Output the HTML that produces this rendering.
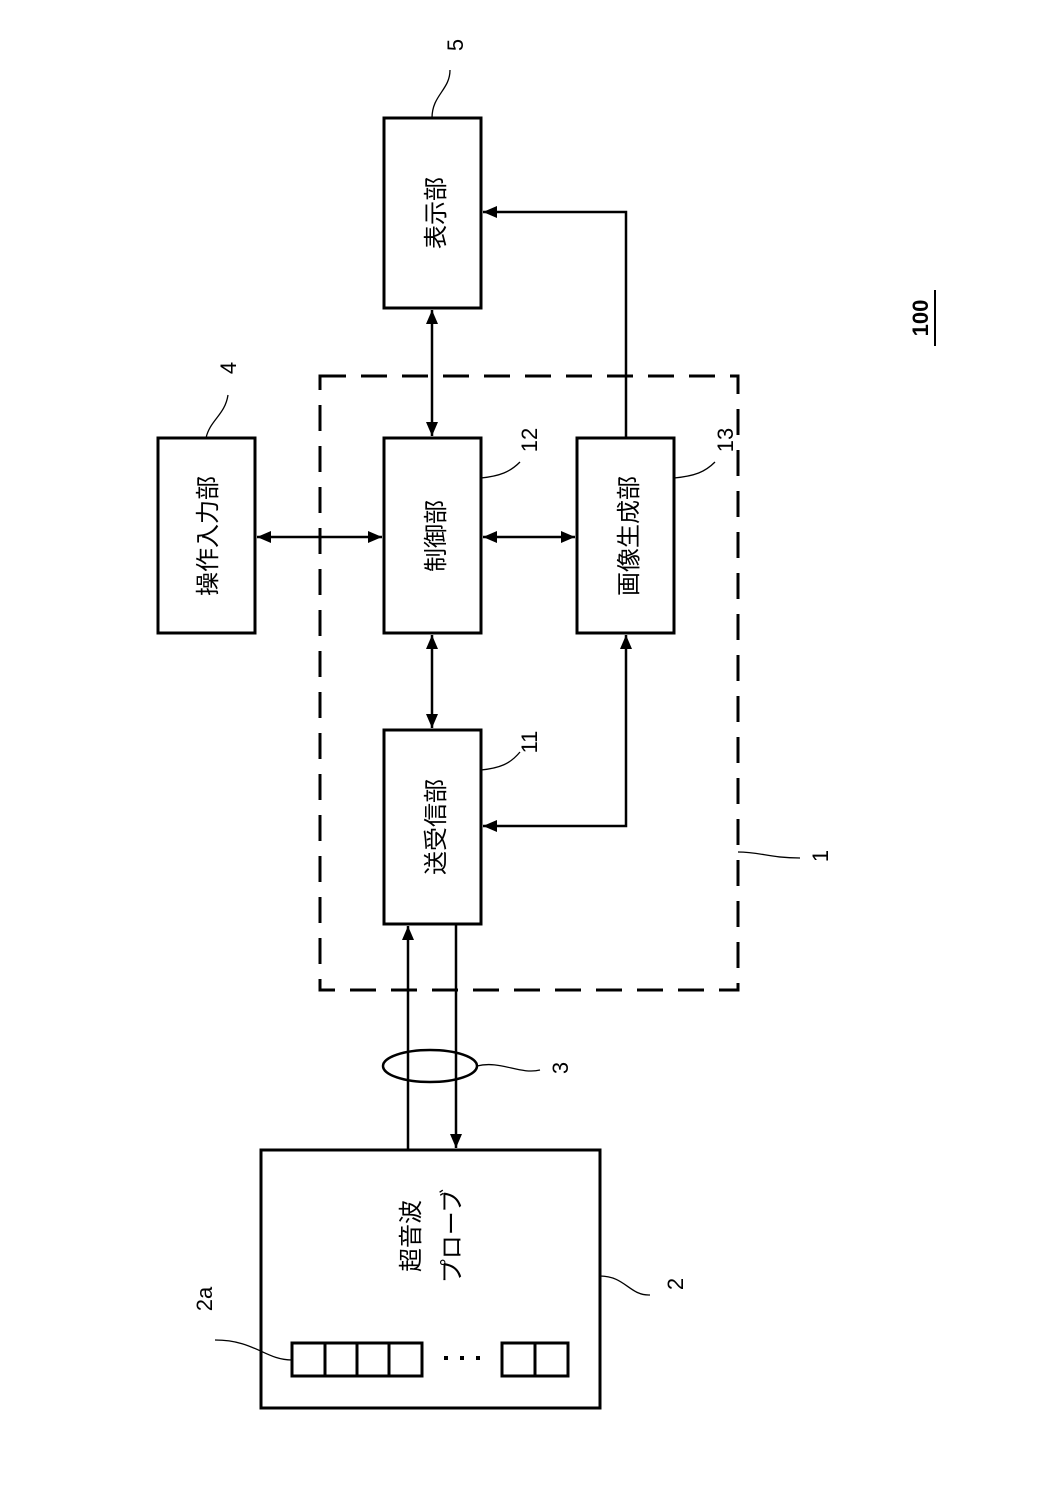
<!DOCTYPE html>
<html><head><meta charset="utf-8"><style>
html,body{margin:0;padding:0;background:#fff}
svg{display:block}
text{font-family:"Liberation Sans","Noto Sans CJK JP",sans-serif;fill:#000}
</style></head><body>
<svg width="1039" height="1512" viewBox="0 0 1039 1512" xmlns="http://www.w3.org/2000/svg">
<defs>
<marker id="a" markerWidth="10" markerHeight="10" refX="9" refY="5" orient="auto" markerUnits="userSpaceOnUse"><path d="M0,0 L14,5 L0,10 z" transform="scale(0.7,1)" fill="#000"/></marker>
<marker id="b" viewBox="0 0 14 12" markerWidth="14" markerHeight="12" refX="14" refY="6" orient="auto-start-reverse" markerUnits="userSpaceOnUse"><path d="M0,0 L14,6 L0,12 z" fill="#000"/></marker>
</defs>
<g fill="none" stroke="#000" stroke-width="3">
<rect x="384" y="118" width="97" height="190"/>
<rect x="158" y="438" width="97" height="195"/>
<rect x="384" y="438" width="97" height="195"/>
<rect x="577" y="438" width="97" height="195"/>
<rect x="384" y="730" width="97" height="194"/>
<rect x="261" y="1150" width="339" height="258"/>
<rect x="292" y="1343" width="130" height="33"/>
<line x1="325" y1="1343" x2="325" y2="1376"/><line x1="357" y1="1343" x2="357" y2="1376"/><line x1="389" y1="1343" x2="389" y2="1376"/>
<rect x="502" y="1343" width="66" height="33"/>
<line x1="535" y1="1343" x2="535" y2="1376"/>
<rect x="320" y="376" width="418" height="614" stroke-dasharray="26,15"/>
</g>
<g fill="#000"><rect x="444" y="1356" width="4" height="4"/><rect x="460" y="1356" width="4" height="4"/><rect x="476" y="1356" width="4" height="4"/></g>
<g fill="none" stroke="#000" stroke-width="2.5">
<line x1="432" y1="310" x2="432" y2="436" marker-start="url(#b)" marker-end="url(#b)"/>
<line x1="257" y1="537" x2="382" y2="537" marker-start="url(#b)" marker-end="url(#b)"/>
<line x1="483" y1="537" x2="575" y2="537" marker-start="url(#b)" marker-end="url(#b)"/>
<line x1="432" y1="635" x2="432" y2="728" marker-start="url(#b)" marker-end="url(#b)"/>
<polyline points="626,438 626,212 483,212" marker-end="url(#b)"/>
<polyline points="483,826 626,826 626,635" marker-start="url(#b)" marker-end="url(#b)"/>
<line x1="408" y1="1150" x2="408" y2="926" marker-end="url(#b)"/>
<line x1="456" y1="924" x2="456" y2="1148" marker-end="url(#b)"/>
<ellipse cx="430" cy="1066" rx="47" ry="16"/>
</g>
<g fill="none" stroke="#000" stroke-width="1.3">
<path d="M432,118 C432,95 450,90 450,70"/>
<path d="M206,438 C210,420 225,415 228,395"/>
<path d="M481,478 C500,476 510,472 520,462"/>
<path d="M674,478 C695,476 705,472 715,462"/>
<path d="M481,770 C500,768 510,764 520,752"/>
<path d="M738,852 C760,852 770,858 800,858"/>
<path d="M477,1066 C500,1060 520,1075 540,1070"/>
<path d="M600,1276 C625,1276 630,1296 650,1295"/>
<path d="M292,1360 C265,1360 255,1340 215,1340"/>
</g>
<g font-size="24">
<text transform="translate(444,213) rotate(-90)" text-anchor="middle">表示部</text>
<text transform="translate(216,536) rotate(-90)" text-anchor="middle">操作入力部</text>
<text transform="translate(444,536) rotate(-90)" text-anchor="middle">制御部</text>
<text transform="translate(637,536) rotate(-90)" text-anchor="middle">画像生成部</text>
<text transform="translate(444,827) rotate(-90)" text-anchor="middle">送受信部</text>
<text transform="translate(419,1236) rotate(-90)" text-anchor="middle">超音波</text>
<text transform="translate(460,1236) rotate(-90)" text-anchor="middle">プローブ</text>
</g>
<g font-size="22">
<text transform="translate(463,45) rotate(-90)" text-anchor="middle">5</text>
<text transform="translate(236,368) rotate(-90)" text-anchor="middle">4</text>
<text transform="translate(537,440) rotate(-90)" text-anchor="middle">12</text>
<text transform="translate(733,440) rotate(-90)" text-anchor="middle">13</text>
<text transform="translate(537,742) rotate(-90)" text-anchor="middle">11</text>
<text transform="translate(828,856) rotate(-90)" text-anchor="middle">1</text>
<text transform="translate(568,1068) rotate(-90)" text-anchor="middle">3</text>
<text transform="translate(683,1284) rotate(-90)" text-anchor="middle">2</text>
<text transform="translate(212,1299) rotate(-90)" text-anchor="middle">2a</text>
<text transform="translate(928,318) rotate(-90)" text-anchor="middle" font-weight="bold">100</text>
</g>
<line x1="935" y1="290" x2="935" y2="346" stroke="#000" stroke-width="2"/>
</svg>
</body></html>
